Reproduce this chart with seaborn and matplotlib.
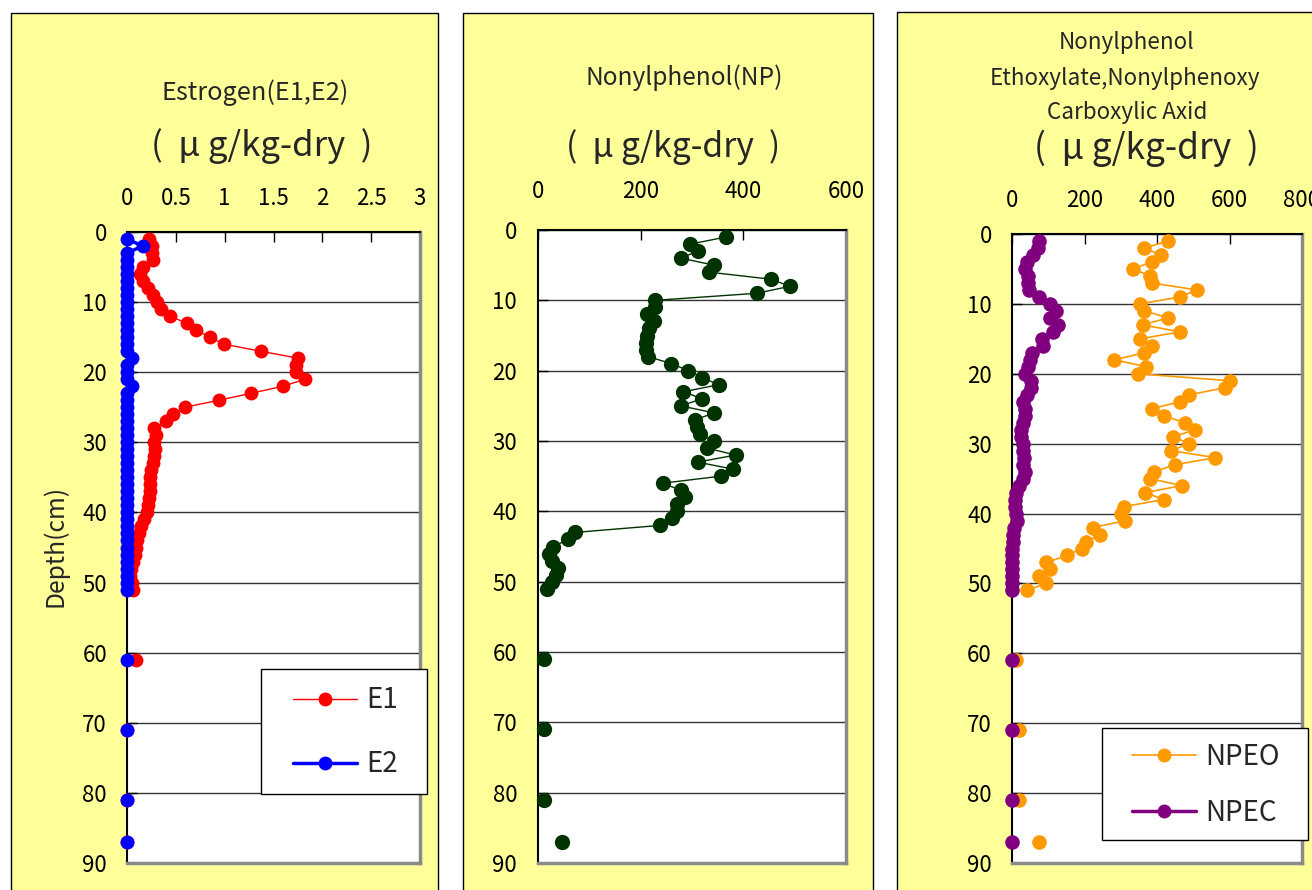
import matplotlib
matplotlib.use("Agg")
import matplotlib.pyplot as plt
from matplotlib.patches import Rectangle
from matplotlib.lines import Line2D
from matplotlib.ticker import FuncFormatter
import pandas as pd
import seaborn as sns

# ---- core sample data -------------------------------------------------------
depth = list(range(1, 52)) + [61, 71, 81, 87]
segment = [0] * 51 + [1, 2, 3, 4]

e1 = [0.23, 0.26, 0.26, 0.27, 0.16, 0.13, 0.16, 0.22, 0.27, 0.31,
      0.35, 0.44, 0.61, 0.71, 0.85, 0.99, 1.37, 1.75, 1.73, 1.73,
      1.82, 1.60, 1.27, 0.94, 0.59, 0.47, 0.40, 0.28, 0.30, 0.28,
      0.29, 0.28, 0.27, 0.25, 0.24, 0.24, 0.24, 0.23, 0.22, 0.20,
      0.17, 0.14, 0.12, 0.10, 0.09, 0.08, 0.06, 0.04, 0.03, 0.05, 0.06,
      0.09, 0.0, 0.0, 0.0]
e2 = [0.0, 0.16, 0.0, 0.0, 0.0, 0.0, 0.0, 0.0, 0.0, 0.0,
      0.0, 0.0, 0.0, 0.0, 0.0, 0.0, 0.0, 0.05, 0.0, 0.0,
      0.0, 0.05, 0.0, 0.0, 0.0, 0.0, 0.0, 0.0, 0.0, 0.0,
      0.0, 0.0, 0.0, 0.0, 0.0, 0.0, 0.0, 0.0, 0.0, 0.0,
      0.0, 0.0, 0.0, 0.0, 0.0, 0.0, 0.0, 0.0, 0.0, 0.0, 0.0,
      0.0, 0.0, 0.0, 0.0]
np_conc = [366, 297, 311, 278, 343, 334, 454, 491, 426, 228,
           228, 213, 226, 216, 213, 210, 211, 214, 260, 293,
           320, 352, 283, 320, 278, 343, 306, 310, 315, 343,
           329, 385, 311, 380, 356, 243, 278, 287, 271, 271,
           261, 238, 72, 59, 30, 22, 28, 39, 35, 28, 18,
           11, 11, 11, 47]
npeo = [431, 365, 411, 385, 333, 381, 385, 510, 464, 353,
        365, 431, 360, 464, 353, 385, 365, 282, 371, 347,
        602, 588, 489, 464, 385, 418, 477, 505, 445, 489,
        438, 561, 451, 392, 381, 468, 368, 418, 309, 302,
        313, 224, 244, 204, 192, 152, 95, 104, 75, 93, 42,
        10, 20, 20, 74]
npec = [75, 73, 58, 40, 35, 44, 44, 47, 75, 106,
        121, 104, 127, 113, 84, 86, 56, 49, 44, 35,
        53, 53, 40, 29, 35, 35, 29, 26, 26, 29,
        29, 32, 30, 35, 30, 20, 12, 8, 8, 12,
        14, 5, 3, 2, 0, 0, 0, 0, 0, 0, 0,
        0, 0, 0, 0]

est_ticks = [0, 0.5, 1, 1.5, 2, 2.5, 3]
np_ticks = [0, 200, 400, 600]
npx_ticks = [0, 200, 400, 600, 800]
depth_ticks = list(range(0, 91, 10))

unit_label = "(  μ g/kg-dry  )"

df = pd.DataFrame({"depth": depth, "segment": segment, "E1": e1, "E2": e2,
                   "NP": np_conc, "NPEO": npeo, "NPEC": npec})

# ---- style ------------------------------------------------------------------
sns.set_style("white")
plt.rcParams["font.family"] = ["Noto Sans CJK JP", "DejaVu Sans"]

W, H = 1312, 890
fig = plt.figure(figsize=(W / 100, H / 100), dpi=100)
renderer = fig.canvas.get_renderer()


def px_box(x0, y0, x1, y1):
    """Pixel box (y measured from the top) -> figure-fraction rect."""
    return [x0 / W, 1 - y1 / H, (x1 - x0) / W, (y1 - y0) / H]


# yellow chart panels
for x0, y0, x1, y1 in [(11, 12.5, 438, 910), (463, 13, 872.5, 910), (897, 12, 1340, 910)]:
    l, b, w, h = px_box(x0, y0, x1, y1)
    fig.add_artist(Rectangle((l, b), w, h, transform=fig.transFigure,
                             facecolor="#FFFF99", edgecolor="black", lw=1, zorder=-1))

ax1 = fig.add_axes(px_box(127, 232, 420, 863))
ax2 = fig.add_axes(px_box(538, 230, 846, 863))
ax3 = fig.add_axes(px_box(1012, 234, 1302, 863))


def style_axis(ax, xmax, xticks, xpad, ypad):
    ax.set_facecolor("white")
    ax.set_xlim(0, xmax)
    ax.set_ylim(90, 0)
    ax.set_xticks(xticks)
    ax.set_yticks(depth_ticks)
    ax.xaxis.set_major_formatter(FuncFormatter(lambda v, p: f"{v:g}"))
    ax.xaxis.tick_top()
    ax.tick_params(axis="x", direction="in", length=7, width=1, pad=xpad,
                   labelsize=16, top=True, bottom=False, colors="black")
    ax.tick_params(axis="y", direction="in", length=7, width=1, pad=ypad,
                   labelsize=16, left=True, right=False, colors="black")
    ax.yaxis.grid(True, color="#333333", lw=1)
    ax.xaxis.grid(False)
    ax.set_axisbelow(True)
    for s in ("top", "left"):
        ax.spines[s].set_color("black")
        ax.spines[s].set_linewidth(1.5)
    for s in ("right", "bottom"):
        ax.spines[s].set_color("#8a8a8a")
        ax.spines[s].set_linewidth(2.5)
    ax.set_xlabel("")
    ax.set_ylabel("")


def profile(ax, col, color, lw, ms):
    sns.lineplot(data=df, x=col, y="depth", units="segment", estimator=None,
                 orient="y", sort=True, ax=ax, color=color, linewidth=lw,
                 marker="o", markersize=ms, markeredgewidth=0, legend=False,
                 clip_on=False, zorder=3)


profile(ax1, "E1", "#FF0000", 1.0, 10)
profile(ax1, "E2", "#0000FF", 2.5, 10)
profile(ax2, "NP", "#003300", 1.0, 11)
profile(ax3, "NPEO", "#FF9900", 1.2, 10.5)
profile(ax3, "NPEC", "#800080", 2.5, 10.5)

style_axis(ax1, 3, est_ticks, 16, 14.4)
style_axis(ax2, 600, np_ticks, 19.5, 15)
style_axis(ax3, 800, npx_ticks, 16, 14.4)


def fitted_text(x, y, s, width_px, size=16, **kw):
    t = fig.text(x / W, 1 - y / H, s, ha="center", va="center", fontsize=size, **kw)
    w = t.get_window_extent(renderer).width
    t.set_fontsize(size * width_px / w)
    return t


fitted_text(255, 93, "Estrogen(E1,E2)", 187)
fitted_text(262, 146, unit_label, 221)
fitted_text(684, 78, "Nonylphenol(NP)", 197)
fitted_text(673, 147, unit_label, 214)
t3 = fitted_text(1125, 78, "Ethoxylate,Nonylphenoxy", 270)
fs3 = t3.get_fontsize()
fig.text(1127 / W, 1 - 42 / H, "Nonylphenol", ha="center", va="center", fontsize=fs3)
fig.text(1127 / W, 1 - 113 / H, "Carboxylic Axid", ha="center", va="center", fontsize=fs3)
fitted_text(1146, 148, unit_label, 225)

yl = fig.text(55 / W, 1 - 546 / H, "Depth(cm)", ha="center", va="center",
              rotation=90, fontsize=14)
yl.set_fontsize(14 * 122 / yl.get_window_extent(renderer).height)


def legend_box(box, items, handle_x, center_y, gap_px, fs=20):
    l, b, w, h = px_box(*box)
    fig.add_artist(Rectangle((l, b), w, h, transform=fig.transFigure,
                             facecolor="white", edgecolor="black", lw=1, zorder=5))
    fs_px = fs * 100 / 72
    handles = [Line2D([], [], color=c, lw=lw, marker="o", markersize=ms,
                      markeredgewidth=0) for _, c, lw, ms in items]
    labels = [name for name, _, _, _ in items]
    leg = fig.legend(handles, labels, loc="center left",
                     bbox_to_anchor=(handle_x / W, 1 - center_y / H),
                     frameon=False, borderpad=0, borderaxespad=0,
                     handlelength=64 / fs_px, handletextpad=9 / fs_px,
                     labelspacing=gap_px / fs_px, fontsize=fs)
    leg.set_zorder(6)


legend_box((261, 669, 427, 794),
           [("E1", "#FF0000", 1.0, 10), ("E2", "#0000FF", 2.5, 10)],
           293, 732.5, 34)
legend_box((1102, 728, 1308, 840),
           [("NPEO", "#FF9900", 1.2, 10), ("NPEC", "#800080", 2.5, 10)],
           1132, 785, 26)

fig.savefig("out.png", dpi=100)
